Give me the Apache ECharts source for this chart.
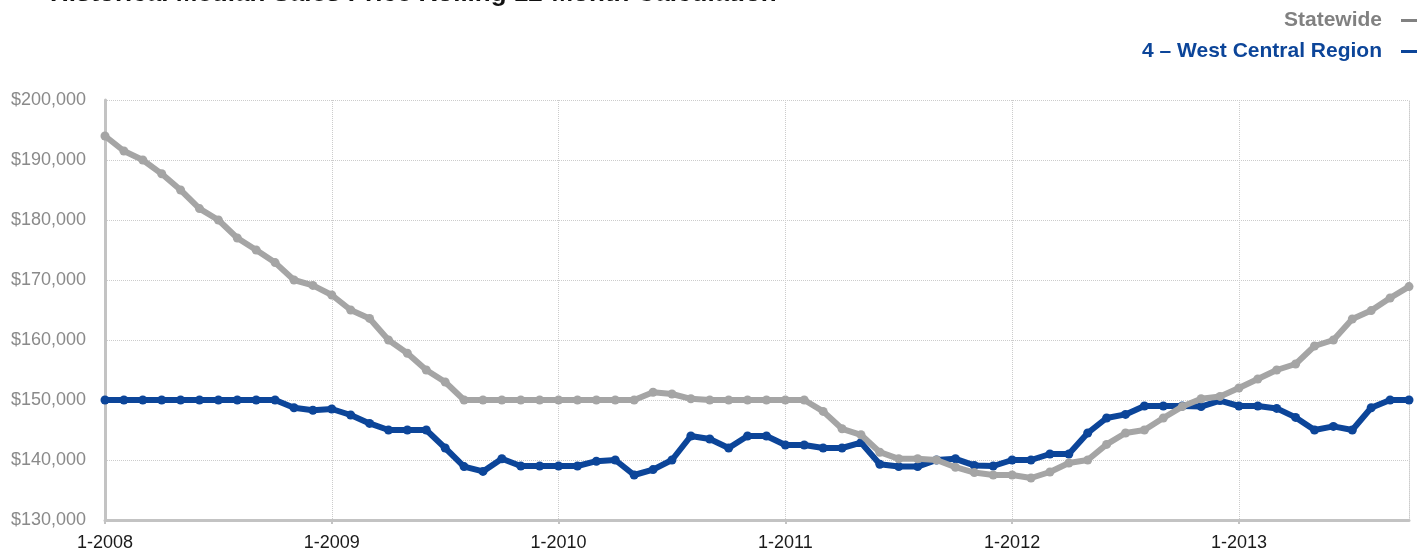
<!DOCTYPE html>
<html>
<head>
<meta charset="utf-8">
<script src="https://cdn.jsdelivr.net/npm/echarts@6/dist/echarts.min.js"></script>
<style>
html,body{margin:0;padding:0;background:#fff;}
#c{width:1426px;height:552px;}
</style>
</head>
<body>
<div id="c"></div>
<script>
var titleText = 'Historical Median Sales Price Rolling 12-Month Calculation';
var years = [2008, 2009, 2010, 2011, 2012, 2013];
var monthCount = 70;
var yTicks = [130000, 140000, 150000, 160000, 170000, 180000, 190000, 200000];
var seriesNames = ['Statewide', '4 – West Central Region'];
var statewide = [
  194000,191500,190000,187700,185000,181900,180000,177000,175000,172900,170000,169100,
  167500,165000,163600,160000,157800,155000,153000,150000,150000,150000,150000,150000,
  150000,150000,150000,150000,150000,151300,151000,150200,150000,150000,150000,150000,
  150000,150000,148100,145200,144200,141300,140200,140200,140000,138800,137900,137500,
  137500,137000,138000,139500,140000,142600,144500,145000,147000,148900,150200,150600,
  152000,153500,155000,156000,159000,160000,163500,164900,167000,168900
];
var westCentral = [
  150000,150000,150000,150000,150000,150000,150000,150000,150000,150000,148700,148300,
  148500,147500,146100,145000,145000,145000,142000,138900,138100,140200,139000,139000,
  139000,139000,139800,140000,137500,138400,140000,144000,143500,142000,144000,144000,
  142500,142500,142000,142000,142900,139300,138900,138900,140000,140200,139100,139000,
  140000,140000,141000,141000,144500,147000,147600,149000,149000,149000,148900,149900,
  149000,149000,148600,147100,145000,145600,145000,148700,150000,150000
];

var categories = [];
for (var i = 0; i < monthCount; i++) {
  var y = years[0] + Math.floor(i / 12);
  categories.push((i % 12 + 1) + '-' + y);
}

var grayC = '#a5a5a5';
var blueC = '#0c4599';
var font = '"Liberation Sans", Arial, Helvetica, sans-serif';

var chart = echarts.init(document.getElementById('c'));
chart.setOption({
  animation: false,
  textStyle: { fontFamily: font },
  title: {
    text: titleText,
    left: 45,
    top: -24,
    textStyle: { fontFamily: font, fontSize: 26, fontWeight: 'bold', color: '#111' }
  },
  legend: {
    orient: 'vertical',
    right: 4,
    top: 5,
    align: 'right',
    itemGap: 10,
    itemWidth: 16,
    itemHeight: 3,
    icon: 'rect',
    data: [
      { name: seriesNames[0], textStyle: { color: '#818181' }, itemStyle: { color: '#818181' } },
      { name: seriesNames[1], textStyle: { color: blueC } }
    ],
    textStyle: { fontFamily: font, fontSize: 21, fontWeight: 'bold', padding: [0, 14, 0, 0] }
  },
  grid: { left: 105, right: 17, top: 100, bottom: 32, containLabel: false },
  xAxis: {
    type: 'category',
    data: categories,
    boundaryGap: false,
    axisLine: { show: true, lineStyle: { color: '#c3c3c3', width: 3 } },
    axisTick: { show: true, interval: 11, length: 4, lineStyle: { color: '#c3c3c3', width: 2 } },
    axisLabel: { interval: 11, color: '#1a1a1a', fontSize: 18, margin: 14, fontFamily: font },
    splitLine: { show: true, interval: 11, lineStyle: { color: '#cccccc', type: 'dotted', width: 1 } }
  },
  yAxis: [{
    type: 'value',
    min: yTicks[0],
    max: yTicks[yTicks.length - 1],
    interval: 10000,
    axisLine: { show: true, lineStyle: { color: '#c3c3c3', width: 3 } },
    axisTick: { show: false },
    axisLabel: {
      color: '#8a8a8a', fontSize: 18, margin: 19, fontFamily: font,
      formatter: function (v) { return '$' + v.toLocaleString('en-US'); }
    },
    splitLine: { show: true, lineStyle: { color: '#cccccc', type: 'dotted', width: 1 } }
  }, {
    type: 'value',
    position: 'right',
    min: yTicks[0],
    max: yTicks[yTicks.length - 1],
    interval: 10000,
    axisLine: { show: true, lineStyle: { color: '#cccccc', type: 'dotted', width: 1 } },
    axisTick: { show: false },
    axisLabel: { show: false },
    splitLine: { show: false }
  }],
  series: [
    {
      name: seriesNames[1],
      type: 'line',
      data: westCentral,
      z: 2,
      symbol: 'circle',
      symbolSize: 9,
      lineStyle: { color: blueC, width: 6 },
      itemStyle: { color: blueC }
    },
    {
      name: seriesNames[0],
      type: 'line',
      data: statewide,
      z: 3,
      symbol: 'circle',
      symbolSize: 9,
      lineStyle: { color: grayC, width: 6 },
      itemStyle: { color: grayC }
    }
  ]
});
</script>
</body>
</html>
